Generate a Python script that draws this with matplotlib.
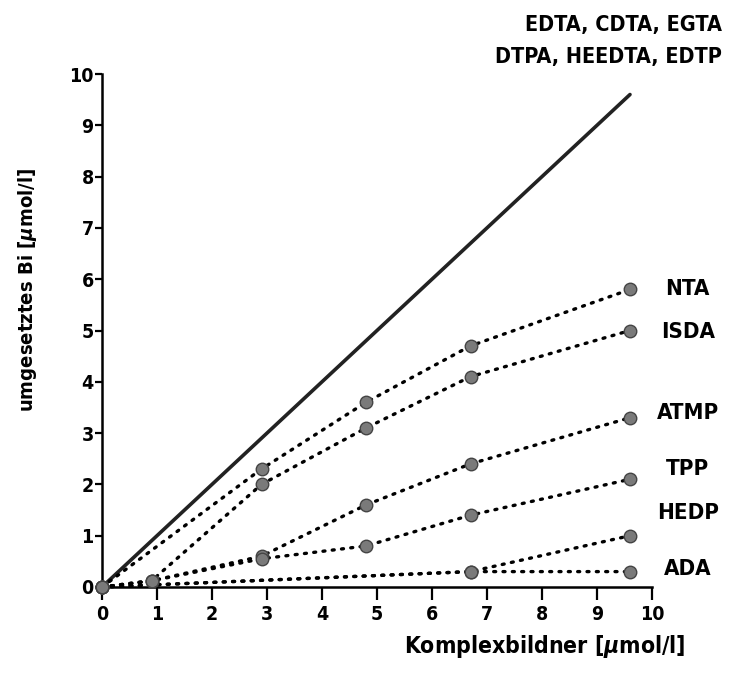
import matplotlib
matplotlib.use('Agg')
import matplotlib.pyplot as plt

# --- Daten ---
x_edta = [0, 9.6]
y_edta = [0, 9.6]

x_nta = [0, 2.9, 4.8, 6.7, 9.6]
y_nta = [0, 2.3, 3.6, 4.7, 5.8]

x_isda = [0, 0.9, 2.9, 4.8, 6.7, 9.6]
y_isda = [0, 0.12, 2.0, 3.1, 4.1, 5.0]

x_atmp = [0, 0.9, 2.9, 4.8, 6.7, 9.6]
y_atmp = [0, 0.12, 0.6, 1.6, 2.4, 3.3]

x_tpp = [0, 0.9, 2.9, 4.8, 6.7, 9.6]
y_tpp = [0, 0.12, 0.55, 0.8, 1.4, 2.1]

x_hedp = [0, 6.7, 9.6]
y_hedp = [0, 0.3, 1.0]

x_ada = [0, 6.7, 9.6]
y_ada = [0, 0.3, 0.3]

reihen = [('NTA', x_nta, y_nta), ('ISDA', x_isda, y_isda), ('ATMP', x_atmp, y_atmp),
          ('TPP', x_tpp, y_tpp), ('HEDP', x_hedp, y_hedp), ('ADA', x_ada, y_ada)]
label_y = {'NTA': 5.8, 'ISDA': 4.97, 'ATMP': 3.4, 'TPP': 2.3, 'HEDP': 1.45, 'ADA': 0.35}

# --- Schrift ---
plt.rcParams['font.family'] = ['DejaVu Sans']
plt.rcParams['font.weight'] = 'bold'
plt.rcParams['font.stretch'] = 'condensed'

fig = plt.figure(figsize=(7.34, 6.84), dpi=100)
ax = fig.add_axes([102 / 734, 97 / 684, 550 / 734, 513 / 684])

ax.plot(x_edta, y_edta, color='#222222', linewidth=2.6, solid_capstyle='round', clip_on=False)

for name, xs, ys in reihen:
    ax.plot(xs, ys, color='black', linewidth=2.4, linestyle=(0, (0.6, 2.2)),
            dash_capstyle='round', clip_on=False, zorder=3)
    ax.plot(xs, ys, linestyle='none', marker='o', markersize=9,
            markerfacecolor='#7a7a7a', markeredgecolor='#444444', markeredgewidth=1.0,
            clip_on=False, zorder=4)
    ax.text(10.65, label_y[name], name, ha='center', va='center', fontsize=16,
            fontweight='bold', clip_on=False)

ax.text(11.27, 10.95, 'EDTA, CDTA, EGTA', ha='right', va='center', fontsize=15.5, fontweight='bold')
ax.text(11.27, 10.33, 'DTPA, HEEDTA, EDTP', ha='right', va='center', fontsize=15.5, fontweight='bold')

ax.set_xlim(0, 10)
ax.set_ylim(0, 10)
ax.set_xticks(range(0, 11))
ax.set_yticks(range(0, 11))
ax.spines['top'].set_visible(False)
ax.spines['right'].set_visible(False)
for s in ('left', 'bottom'):
    ax.spines[s].set_linewidth(1.8)
ax.tick_params(axis='x', direction='out', length=9, width=1.6, labelsize=14, pad=4)
ax.tick_params(axis='y', direction='out', length=5, width=1.6, labelsize=14, pad=1)

ax.set_xlabel('Komplexbildner [$\\mu$mol/l]', fontsize=16.5, fontweight='bold')
ax.xaxis.set_label_coords(0.805, -0.09)
ax.set_ylabel('umgesetztes Bi [$\\mu$mol/l]', fontsize=14.5, fontweight='bold')
ax.yaxis.set_label_coords(-0.115, 0.58)

plt.savefig('out.png', dpi=100)
plt.close()
